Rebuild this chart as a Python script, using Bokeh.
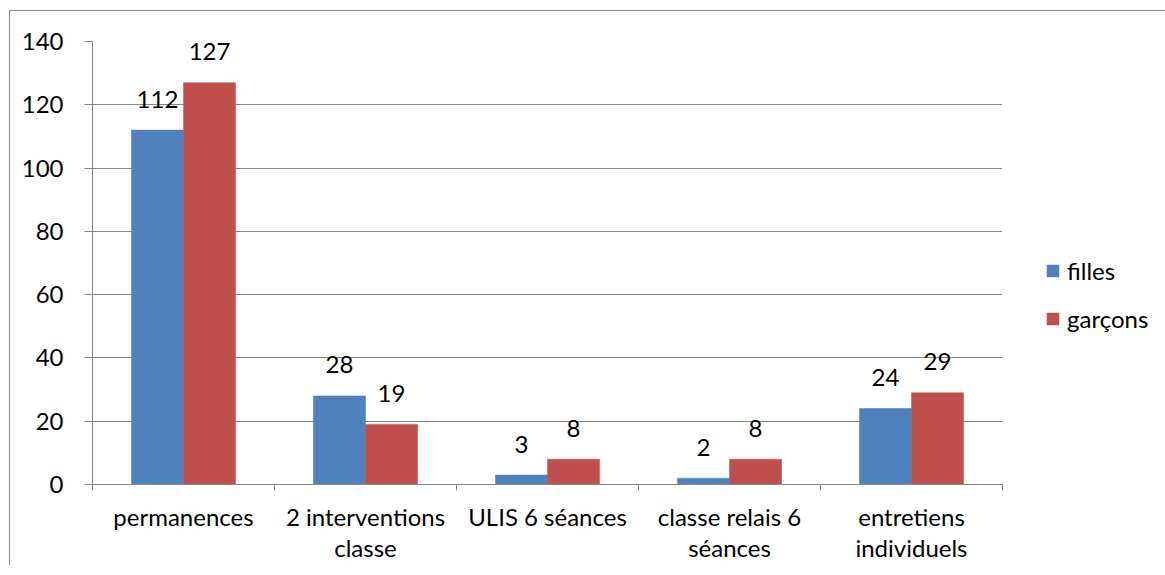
from bokeh.plotting import figure
from bokeh.models import (ColumnDataSource, FixedTicker, Legend, LegendItem, Range1d)
from bokeh.core.properties import value
from bokeh.embed import file_html
from bokeh.resources import INLINE

categories = ["permanences", "2 interventions\nclasse", "ULIS 6 séances",
              "classe relais 6\nséances", "entretiens\nindividuels"]
filles = [112, 28, 3, 2, 24]
garcons = [127, 19, 8, 8, 29]
series_names = ["filles", "garçons"]
colors = ["#4F81BD", "#C0504D"]
y_ticks = [0, 20, 40, 60, 80, 100, 120, 140]

FONT = "Lato"
FS = "24px"

n = len(categories)
centers = [i + 0.5 for i in range(n)]
bw = 0.286
off = 0.143

src_f = ColumnDataSource(dict(x=[c - off for c in centers], top=filles,
                              lab=[str(v) for v in filles]))
src_g = ColumnDataSource(dict(x=[c + off for c in centers], top=garcons,
                              lab=[str(v) for v in garcons]))

p = figure(frame_width=910, frame_height=443, output_backend="svg", toolbar_location=None,
           x_range=Range1d(0, n), y_range=Range1d(0, 140),
           min_border_left=82, min_border_right=145, min_border_top=30,
           min_border_bottom=80)
p.outline_line_color = None
p.background_fill_color = "white"
p.border_fill_color = "white"
p.styles = {"border-left": "1px solid #8c8c8c", "border-top": "1px solid #8c8c8c",
            "margin-left": "9px", "margin-top": "10px"}

r1 = p.vbar(x="x", top="top", width=bw, bottom=0, source=src_f,
            fill_color=colors[0], line_color=colors[0], line_width=0.5)
r2 = p.vbar(x="x", top="top", width=bw, bottom=0, source=src_g,
            fill_color=colors[1], line_color=colors[1], line_width=0.5)

for src in (src_f, src_g):
    p.text(x="x", y="top", text="lab", source=src, text_align="center",
           text_baseline="middle", y_offset=-31,
           text_font=value(FONT), text_font_size=FS, text_color="black")

# axes
p.xaxis.ticker = FixedTicker(ticks=centers, minor_ticks=list(range(n + 1)))
p.xaxis.major_label_overrides = {c: lab for c, lab in zip(centers, categories)}
p.xaxis.major_tick_line_color = None
p.xaxis.minor_tick_out = 6
p.xaxis.minor_tick_in = 0
p.xaxis.minor_tick_line_color = "#868686"
p.xaxis.axis_line_color = "#868686"
p.xaxis.major_label_standoff = 11
p.xaxis.major_label_text_font = FONT
p.xaxis.major_label_text_font_size = FS
p.xaxis.major_label_text_color = "black"
p.xaxis.major_label_text_line_height = 1.1

p.yaxis.ticker = FixedTicker(ticks=y_ticks, minor_ticks=[])
p.yaxis.major_tick_out = 8
p.yaxis.major_tick_in = 0
p.yaxis.major_tick_line_color = "#868686"
p.yaxis.axis_line_color = "#868686"
p.yaxis.minor_tick_line_color = None
p.yaxis.major_label_standoff = 21
p.yaxis.major_label_text_font = FONT
p.yaxis.major_label_text_font_size = FS
p.yaxis.major_label_text_color = "black"

p.xgrid.grid_line_color = None
p.ygrid.ticker = FixedTicker(ticks=y_ticks)
p.ygrid.grid_line_color = "#868686"
p.ygrid.grid_line_width = 1

legend = Legend(items=[LegendItem(label=series_names[0], renderers=[r1]),
                       LegendItem(label=series_names[1], renderers=[r2])],
                location=(43, 151), orientation="vertical",
                padding=0, margin=0, spacing=19,
                glyph_width=15, glyph_height=15, label_height=20,
                label_standoff=7, border_line_color=None,
                background_fill_alpha=0,
                label_text_font=FONT, label_text_font_size=FS,
                label_text_color="black")
p.add_layout(legend, "right")

open("out.html", "w").write(file_html(p, INLINE))
